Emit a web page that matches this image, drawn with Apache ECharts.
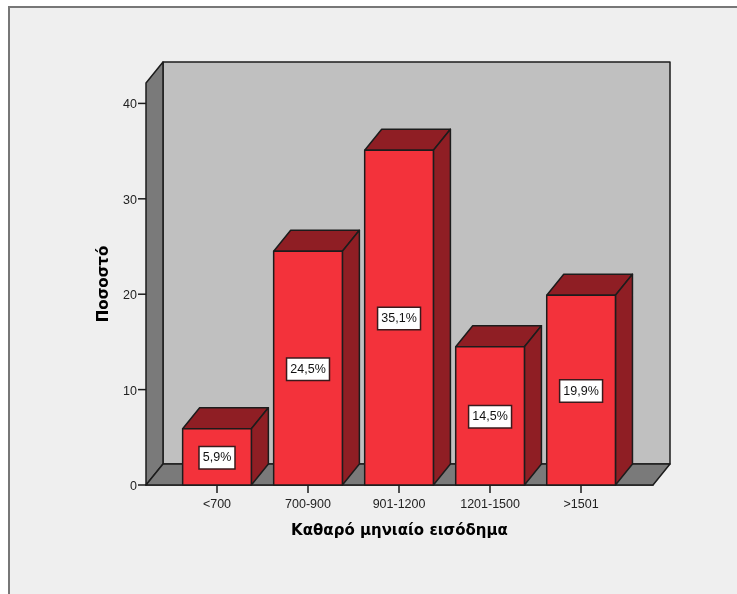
<!DOCTYPE html>
<html>
<head>
<meta charset="utf-8">
<style>html,body{margin:0;padding:0;background:#fff}#c{width:737px;height:594px}</style>
<script src="https://cdn.jsdelivr.net/npm/echarts@6/dist/echarts.min.js"></script>
</head>
<body>
<div id="c"></div>
<script>
// Net monthly income distribution, drawn as extruded bars in a box
const categories = ['<700', '700-900', '901-1200', '1201-1500', '>1501'];
const percentages = [5.9, 24.5, 35.1, 14.5, 19.9];
const yTicks = [0, 10, 20, 30, 40];
const xLabel = 'Καθαρό μηνιαίο εισόδημα';
const yLabel = 'Ποσοστό';

// Extrusion offset of the box and the bars, in pixels
const depthX = 17, depthY = -21;
const barWidth = 0.755;
const xMin = -0.78, xMax = 4.79, yMax = 42.14;
const edge = '#1c1c1c';
const sans = '"Liberation Sans", Arial, sans-serif';

const chart = echarts.init(document.getElementById('c'), null, {renderer: 'canvas'});

function poly(points, fill, z2) {
  return {
    type: 'polygon', z2: z2 || 0,
    shape: {points},
    style: {fill, stroke: edge, lineWidth: 1.5, lineJoin: 'round'}
  };
}

function shift(p) { return [p[0] + depthX, p[1] + depthY]; }

function renderBox(params, api) {
  const bl = api.coord([xMin, 0]), br = api.coord([xMax, 0]), tl = api.coord([xMin, yMax]);
  const tr = api.coord([xMax, yMax]);
  return {type: 'group', children: [
    poly([shift(bl), shift(br), shift(tr), shift(tl)], '#c0c0c0'),
    poly([bl, shift(bl), shift(tl), tl], '#7a7a7a'),
    poly([bl, br, shift(br), shift(bl)], '#7a7a7a')
  ]};
}

// Value-axis tick and its number, placed through the y scale
function renderYTick(params, api) {
  const v = api.value(1);
  const p = api.coord([xMin, v]);
  return {type: 'group', children: [
    {type: 'line', shape: {x1: p[0] - 8, y1: p[1], x2: p[0], y2: p[1]},
      style: {stroke: edge, lineWidth: 1.5}},
    {type: 'text', x: p[0] - 9, y: p[1] + 1.5,
      style: {text: String(v), fill: '#222', font: '12.5px ' + sans, align: 'right', verticalAlign: 'middle'}}
  ]};
}

function renderBar(params, api) {
  const i = api.value(0), v = api.value(1);
  const bl = api.coord([i - barWidth / 2, 0]), br = api.coord([i + barWidth / 2, 0]);
  const tl = api.coord([i - barWidth / 2, v]), tr = api.coord([i + barWidth / 2, v]);
  const mid = api.coord([i, v / 2]);
  return {type: 'group', children: [
    poly([tl, tr, shift(tr), shift(tl)], '#8f1e24'),
    poly([br, shift(br), shift(tr), tr], '#8f1e24'),
    poly([bl, br, tr, tl], '#f3323b'),
    {
      type: 'text', z2: 5,
      x: mid[0], y: mid[1] + 1,
      style: {
        text: v.toFixed(1).replace('.', ',') + '%',
        fill: '#111', font: '12.5px ' + sans,
        align: 'center', verticalAlign: 'middle',
        backgroundColor: '#fff', borderColor: '#3a1a1c', borderWidth: 1.5,
        padding: [5, 3, 3, 3]
      }
    }
  ]};
}

chart.setOption({
  animation: false,
  backgroundColor: '#fff',
  graphic: [
    {type: 'rect', z: -10, shape: {x: 9, y: 7, width: 728, height: 587}, style: {fill: '#efefef'}},
    {type: 'polyline', z: -9, shape: {points: [[9, 594], [9, 7], [737, 7]]},
      style: {stroke: '#777', lineWidth: 2, fill: null}}
  ],
  grid: {left: 146, top: 83, width: 507, height: 402},
  xAxis: {
    type: 'value', min: xMin, max: xMax,
    splitLine: {show: false},
    axisLine: {onZero: false, lineStyle: {color: edge, width: 1.5}},
    axisTick: {length: 8, customValues: categories.map((c, i) => i), lineStyle: {color: edge, width: 1.5}},
    axisLabel: {
      customValues: categories.map((c, i) => i),
      formatter: v => categories[v],
      color: '#222', fontSize: 12.5, margin: 13, fontFamily: sans
    },
    name: xLabel, nameLocation: 'middle', nameGap: 39,
    nameTextStyle: {color: '#000', fontSize: 15, fontWeight: 'bold', fontFamily: '"DejaVu Sans", sans-serif'}
  },
  yAxis: {
    type: 'value', min: 0, max: yMax,
    splitLine: {show: false},
    axisLine: {show: true, lineStyle: {color: edge, width: 1.5}},
    axisTick: {show: false},
    axisLabel: {show: false},
    name: yLabel, nameLocation: 'middle', nameGap: 34,
    nameTextStyle: {color: '#000', fontSize: 15, fontWeight: 'bold', fontFamily: '"DejaVu Sans", sans-serif'}
  },
  series: [
    {type: 'custom', clip: false, z: 1, silent: true, data: [[0, 0]], renderItem: renderBox},
    {
      type: 'custom', clip: false, z: 2, silent: true,
      data: yTicks.map(v => [0, v]),
      encode: {x: 0, y: 1},
      renderItem: renderYTick
    },
    {
      type: 'custom', clip: false, z: 3, silent: true,
      data: percentages.map((v, i) => [i, v]),
      encode: {x: 0, y: 1},
      renderItem: renderBar
    }
  ]
});
</script>
</body>
</html>
